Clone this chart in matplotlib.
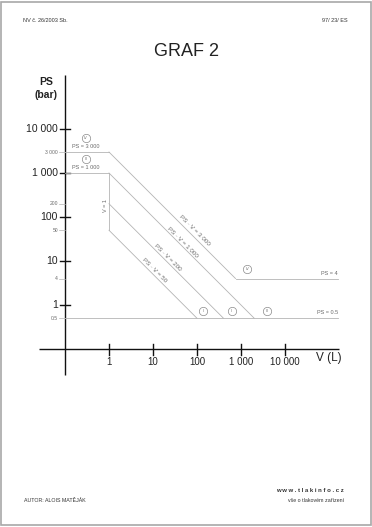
"""GRAF 2 (NV c. 26/2003 Sb.) - pressure equipment categories, PS vs V on log-log axes."""
import matplotlib
matplotlib.use("Agg")
import matplotlib.pyplot as plt
from matplotlib.patches import Rectangle

plt.rcParams["font.family"] = ["Liberation Sans", "DejaVu Sans"]

# data
MAJOR_PS = [1, 10, 100, 1000, 10000]
MAJOR_PS_LABELS = ["1", "10", "100", "1 000", "10 000"]
MINOR_PS = [0.5, 4, 50, 200, 3000]
MINOR_PS_LABELS = ["0.5", "4", "50", "200", "3 000"]
V_TICKS = [1, 10, 100, 1000, 10000]
V_LABELS = ["1", "10", "100", "1 000", "10 000"]
PS_HIGH = [3000, 1000]            # horizontal limits from the axis up to V = 1
PS_LOW = [4, 0.5]                 # horizontal limits to the right
PV_CONST = [3000, 1000, 200, 50]  # PS * V = const
PV_LABELS = ["PS · V = 3 000", "PS · V = 1 000", "PS · V = 200", "PS · V = 50"]
V_LIMIT = 1                       # V = 1 vertical, between PS = 1000 and 50
V_LIMIT_PS = (50, 1000)

GRAY = "#b4b4b4"
TXT = "#6a6a6a"
AX0 = 0.1                  # where the drawn axes cross
AX_END = 10 ** 5.227
X_RIGHT = 10 ** 5.2

fig = plt.figure(figsize=(3.72, 5.27), dpi=100)
ax = fig.add_axes([30 / 372, (527 - 385) / 527, 320 / 372, 315 / 527])
ax.set_xscale("log")
ax.set_yscale("log")
ax.set_xlim(10 ** -1.795, 10 ** 5.477)
ax.set_ylim(10 ** -1.818, 10 ** 5.341)
ax.axis("off")

# page frame
fig.patches.append(Rectangle((0.003, 0.003), 0.994, 0.994, transform=fig.transFigure,
                             fill=False, ec="#a8a8a8", lw=1.2))

# axes
ax.plot([AX0, AX0], [10 ** -1.59, AX_END], color="#111", lw=1.0, solid_capstyle="butt")
ax.plot([10 ** -1.59, AX_END], [AX0, AX0], color="#111", lw=1.0, solid_capstyle="butt")
for p, lab in zip(MAJOR_PS, MAJOR_PS_LABELS):
    ax.plot([10 ** -1.114, 10 ** -0.886], [p, p], color="#111", lw=1.0)
    ax.text(10 ** -1.16, p, lab, ha="right", va="center", fontsize=7.5, color="#222")
for p, lab in zip(MINOR_PS, MINOR_PS_LABELS):
    ax.plot([10 ** -1.136, AX0], [p, p], color=GRAY, lw=0.5)
    ax.text(10 ** -1.16, p, lab, ha="right", va="center", fontsize=3.6, color=TXT)
for v, lab in zip(V_TICKS, V_LABELS):
    ax.plot([v, v], [10 ** -0.886, 10 ** -1.136], color="#111", lw=1.0)
    ax.text(v, 10 ** -1.3, lab, ha="center", va="center", fontsize=7, color="#222")
ax.text(10 ** 5.0, 10 ** -1.2, "V (L)", ha="center", va="center", fontsize=8.5, color="#222")
fig.text(46 / 372, 1 - 82 / 527, "PS", ha="center", va="center", fontsize=7.5,
         fontweight="bold", color="#222")
fig.text(46 / 372, 1 - 95 / 527, "(bar)", ha="center", va="center", fontsize=7.5,
         fontweight="bold", color="#222")

# limit lines
for p in PS_HIGH:
    ax.plot([AX0, V_LIMIT], [p, p], color=GRAY, lw=0.6)
ax.plot([V_LIMIT, V_LIMIT], V_LIMIT_PS, color=GRAY, lw=0.6)
ax.plot([PV_CONST[0] / PS_LOW[0], X_RIGHT], [PS_LOW[0], PS_LOW[0]], color=GRAY, lw=0.6)
ax.plot([AX0, X_RIGHT], [PS_LOW[1], PS_LOW[1]], color=GRAY, lw=0.6)
for c in PV_CONST:
    p_end = PS_LOW[0] if c == PV_CONST[0] else PS_LOW[1]
    p_start = min(c, PS_HIGH[0]) if c >= 1000 else c
    ax.plot([c / p_start, c / p_end], [p_start, p_end], color=GRAY, lw=0.6)

# labels on the lines
small = dict(fontsize=4, color=TXT, ha="center", va="center")
ax.text(0.30, 4100, "PS = 3 000", **small)
ax.text(0.30, 1300, "PS = 1 000", **small)
ax.text(10 ** 5.2, 5.1, "PS = 4", **{**small, "ha": "right"})
ax.text(10 ** 5.2, 0.66, "PS = 0.5", **{**small, "ha": "right"})
ax.text(0.82, 185, "V = 1", rotation=90, rotation_mode="anchor", **small)
for (v, p), lab in zip([(90, 50), (48, 27), (22, 11.7), (11, 6.2)], PV_LABELS):
    ax.text(v, p, lab, rotation=-45, rotation_mode="anchor", fontsize=4.5, color=TXT,
            ha="center", va="center")

# category circles
for (v, p), lab in zip([(0.30, 6100), (0.30, 2050), (137, 0.73), (620, 0.73), (3900, 0.73),
                        (1370, 6.6)], ["IV", "III", "I", "II", "III", "IV"]):
    ax.plot(v, p, "o", ms=6, mfc="white", mec="#8a8a8a", mew=0.5)
    ax.text(v, p, lab, fontsize=2.8, color=TXT, ha="center", va="center")

# page texts
fig.text(0.5, 1 - 51 / 527, "GRAF 2", ha="center", va="center", fontsize=13, color="#222")
fig.text(23 / 372, 1 - 20 / 527, "NV č. 26/2003 Sb.", ha="left", va="center", fontsize=4, color="#333")
fig.text(348 / 372, 1 - 20 / 527, "97/ 23/ ES", ha="right", va="center", fontsize=4, color="#333")
fig.text(24 / 372, 1 - 500 / 527, "AUTOR: ALOIS MATĚJÁK", ha="left", va="center", fontsize=3.8,
         color="#333")
fig.text(344 / 372, 1 - 490 / 527, "w w w . t l a k i n f o . c z", ha="right", va="center",
         fontsize=4.3, fontweight="bold", color="#333")
fig.text(344 / 372, 1 - 500 / 527, "vše o tlakovém zařízení", ha="right", va="center",
         fontsize=3.8, color="#333")

fig.savefig("out.png", dpi=100)
